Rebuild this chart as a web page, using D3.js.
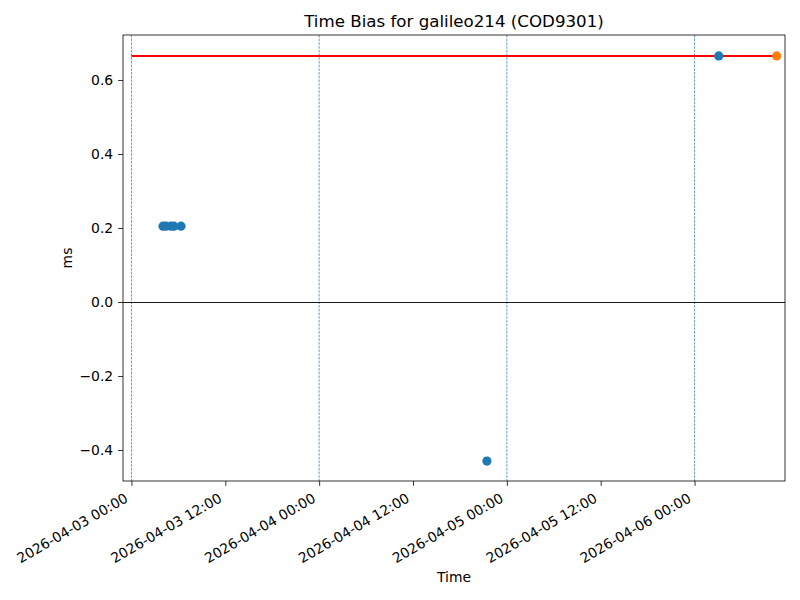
<!DOCTYPE html>
<html>
<head>
<meta charset="utf-8">
<script src="https://cdn.jsdelivr.net/npm/d3@7"></script>
<style>
  body { margin: 0; background: #fff; }
  svg { display: block; font-family: "DejaVu Sans", sans-serif; }
</style>
</head>
<body>
<svg id="chart" width="800" height="600"></svg>
<script>
// ---- data ----
const title = "Time Bias for galileo214 (COD9301)";
const xLabel = "Time";
const yLabel = "ms";
const biasTimes = ["2026-04-03T04:02", "2026-04-03T04:25", "2026-04-03T05:03", "2026-04-03T05:26", "2026-04-03T06:20", "2026-04-04T21:27", "2026-04-06T03:06"];
const biasValues = [0.205, 0.205, 0.205, 0.205, 0.205, -0.43, 0.665];
const latestTime = ["2026-04-06T10:30"];
const latestValue = [0.665];
const refLineTimes = ["2026-04-03T00:00", "2026-04-06T10:30"];
const refLineValue = 0.665;
const dayLines = ["2026-04-03T00:00", "2026-04-04T00:00", "2026-04-05T00:00", "2026-04-06T00:00"];
const xDomain = ["2026-04-02T22:55", "2026-04-06T11:34"];
const yDomain = [-0.4838, 0.7216];
const yTicks = [-0.4, -0.2, 0.0, 0.2, 0.4, 0.6];

const parse = d3.utcParse("%Y-%m-%dT%H:%M");
const svg = d3.select("#chart");
const m = { left: 123, right: 785, top: 35, bottom: 481 };

const x = d3.scaleUtc().domain(xDomain.map(parse)).range([m.left, m.right]);
const y = d3.scaleLinear().domain(yDomain).range([m.bottom, m.top]);

// day grid lines
svg.append("g").selectAll("line").data(dayLines.map(parse)).join("line")
  .attr("x1", d => x(d)).attr("x2", d => x(d))
  .attr("y1", m.top).attr("y2", m.bottom)
  .attr("stroke", "#1f77b4").attr("stroke-width", 0.7)
  .attr("stroke-dasharray", "2.6,1.1");

// zero line
svg.append("line")
  .attr("x1", m.left).attr("x2", m.right)
  .attr("y1", Math.round(y(0)) + 0.5).attr("y2", Math.round(y(0)) + 0.5)
  .attr("stroke", "#000").attr("stroke-width", 0.9);

// reference line
svg.append("line")
  .attr("x1", x(parse(refLineTimes[0]))).attr("x2", x(parse(refLineTimes[1])))
  .attr("y1", y(refLineValue)).attr("y2", y(refLineValue))
  .attr("stroke", "#ff0000").attr("stroke-width", 2);

// blue points
svg.append("g").selectAll("circle").data(biasTimes.map((t, i) => [parse(t), biasValues[i]])).join("circle")
  .attr("cx", d => x(d[0])).attr("cy", d => y(d[1])).attr("r", 4.6)
  .attr("fill", "#1f77b4");

// orange point
svg.append("g").selectAll("circle").data(latestTime.map((t, i) => [parse(t), latestValue[i]])).join("circle")
  .attr("cx", d => x(d[0])).attr("cy", d => y(d[1])).attr("r", 4.6)
  .attr("fill", "#ff7f0e");

// axes
const fmt = d3.utcFormat("%Y-%m-%d %H:%M");
const xAxis = d3.axisBottom(x).ticks(d3.utcHour.every(12)).tickFormat(fmt).tickSizeOuter(0).tickSize(4.9).tickPadding(4.9);
const gx = svg.append("g").attr("transform", `translate(0,${m.bottom})`).call(xAxis);
gx.select(".domain").remove();
gx.selectAll("line").attr("stroke-width", 0.8);
gx.selectAll("text")
  .attr("font-size", 13.9).attr("font-family", "DejaVu Sans")
  .attr("text-anchor", "end").attr("dy", null)
  .attr("transform", "translate(-3,20) rotate(-30)")
  .attr("y", 0).attr("x", 0);

const yAxis = d3.axisLeft(y).tickValues(yTicks).tickFormat(d => d3.format(".1f")(d).replace("-", "\u2212")).tickSizeOuter(0).tickSize(4.9).tickPadding(4.9);
const gy = svg.append("g").attr("transform", `translate(${m.left},0)`).call(yAxis);
gy.select(".domain").remove();
gy.selectAll("line").attr("stroke-width", 0.8);
gy.selectAll("text").attr("font-size", 13.9).attr("font-family", "DejaVu Sans");

// frame
svg.append("rect").attr("x", m.left).attr("y", m.top)
  .attr("width", m.right - m.left).attr("height", m.bottom - m.top)
  .attr("fill", "none").attr("stroke", "#000").attr("stroke-width", 0.8);

// labels
svg.append("text").attr("x", (m.left + m.right) / 2).attr("y", 27)
  .attr("text-anchor", "middle").attr("font-size", 16.67).text(title);
svg.append("text").attr("x", (m.left + m.right) / 2).attr("y", 582)
  .attr("text-anchor", "middle").attr("font-size", 13.9).text(xLabel);
svg.append("text").attr("transform", `translate(72,${(m.top + m.bottom) / 2}) rotate(-90)`)
  .attr("text-anchor", "middle").attr("font-size", 13.9).text(yLabel);
</script>
</body>
</html>
